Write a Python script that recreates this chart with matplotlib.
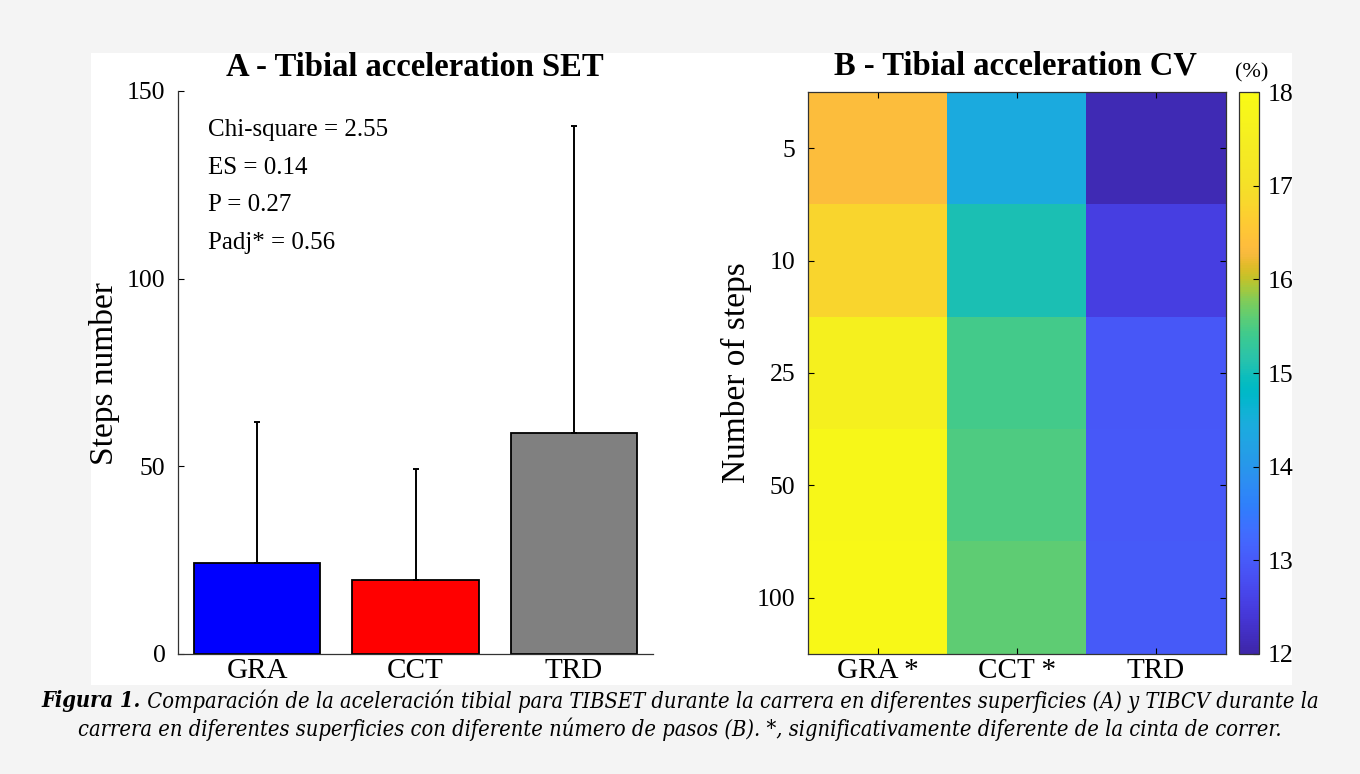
import matplotlib
matplotlib.use('Agg')
import matplotlib.pyplot as plt
import numpy as np
from matplotlib.colors import LinearSegmentedColormap
from matplotlib.patches import Rectangle

# ---------------- data ----------------
categories = ['GRA', 'CCT', 'TRD']
set_means = [24.2, 19.6, 58.9]
set_sd = [37.5, 29.7, 81.8]
bar_colors = ['#0000ff', '#ff0000', '#808080']
stats_lines = ['Chi-square = 2.55', 'ES = 0.14', 'P = 0.27', 'Padj* = 0.56']

cv_categories = ['GRA *', 'CCT *', 'TRD']
step_counts = ['5', '10', '25', '50', '100']
cv_gra = [16.35, 16.8, 17.6, 17.85, 17.9]
cv_cct = [14.4, 15.05, 15.44, 15.51, 15.6]
cv_trd = [12.1, 12.52, 12.95, 12.97, 13.0]
cbar_ticks = [12, 13, 14, 15, 16, 17, 18]

title_a = 'A - Tibial acceleration SET'
title_b = 'B - Tibial acceleration CV'
caption_bold = 'Figura 1.'
caption_line1 = (' Comparación de la aceleración tibial para TIBSET durante la carrera en '
                 'diferentes superficies (A) y TIBCV durante la')
caption_line2 = ('carrera en diferentes superficies con diferente número de pasos (B). *, '
                 'significativamente diferente de la cinta de correr.')

# ---------------- parula-like colormap ----------------
parula64 = np.array([
    [0.2422, 0.1504, 0.6603], [0.2504, 0.1650, 0.7076], [0.2578, 0.1818, 0.7511],
    [0.2647, 0.1978, 0.7952], [0.2706, 0.2147, 0.8364], [0.2751, 0.2342, 0.8710],
    [0.2783, 0.2559, 0.8991], [0.2803, 0.2782, 0.9221], [0.2813, 0.3006, 0.9414],
    [0.2810, 0.3228, 0.9579], [0.2795, 0.3447, 0.9717], [0.2760, 0.3667, 0.9829],
    [0.2699, 0.3892, 0.9906], [0.2602, 0.4123, 0.9952], [0.2440, 0.4358, 0.9988],
    [0.2206, 0.4603, 0.9973], [0.1963, 0.4847, 0.9892], [0.1834, 0.5074, 0.9798],
    [0.1786, 0.5289, 0.9682], [0.1764, 0.5499, 0.9520], [0.1687, 0.5703, 0.9359],
    [0.1540, 0.5902, 0.9218], [0.1460, 0.6091, 0.9079], [0.1380, 0.6276, 0.8973],
    [0.1248, 0.6459, 0.8883], [0.1113, 0.6635, 0.8763], [0.0952, 0.6798, 0.8598],
    [0.0689, 0.6948, 0.8394], [0.0297, 0.7082, 0.8163], [0.0036, 0.7203, 0.7917],
    [0.0067, 0.7312, 0.7660], [0.0433, 0.7411, 0.7394], [0.0964, 0.7500, 0.7120],
    [0.1408, 0.7584, 0.6842], [0.1717, 0.7670, 0.6554], [0.1938, 0.7758, 0.6251],
    [0.2161, 0.7843, 0.5923], [0.2470, 0.7918, 0.5567], [0.2906, 0.7973, 0.5188],
    [0.3406, 0.8008, 0.4789], [0.3909, 0.8029, 0.4354], [0.4456, 0.8024, 0.3909],
    [0.5044, 0.7993, 0.3480], [0.5616, 0.7942, 0.3045], [0.6174, 0.7876, 0.2612],
    [0.6720, 0.7793, 0.2227], [0.7242, 0.7698, 0.1910], [0.7738, 0.7598, 0.1646],
    [0.8203, 0.7498, 0.1535], [0.8634, 0.7406, 0.1596], [0.9035, 0.7330, 0.1774],
    [0.9393, 0.7288, 0.2100], [0.9728, 0.7298, 0.2394], [0.9956, 0.7434, 0.2371],
    [0.9970, 0.7659, 0.2199], [0.9952, 0.7893, 0.2028], [0.9892, 0.8136, 0.1885],
    [0.9786, 0.8386, 0.1766], [0.9676, 0.8639, 0.1643], [0.9610, 0.8890, 0.1537],
    [0.9597, 0.9135, 0.1423], [0.9628, 0.9373, 0.1265], [0.9691, 0.9606, 0.1064],
    [0.9769, 0.9839, 0.0805]])
f = np.linspace(0, 1, len(parula64))
pos = np.interp(f, [0, 0.5, 0.667, 0.83, 0.93, 1.0], [0, 0.5, 0.63, 0.715, 0.83, 1.0])
cmap = LinearSegmentedColormap.from_list('parula_ref', list(zip(pos, parula64)), N=256)

# ---------------- figure ----------------
W, H = 1360, 774
fig = plt.figure(figsize=(W / 100, H / 100), dpi=100, facecolor='#f4f4f4')

def fx(px):
    return px / W

def fy(py):
    return 1 - py / H

serif = ['Liberation Serif', 'DejaVu Serif']

# white panel
fig.patches.append(Rectangle((fx(91), fy(685)), fx(1292) - fx(91), (685 - 53) / H,
                             transform=fig.transFigure, facecolor='white',
                             edgecolor='none', zorder=-10))

# ---------------- panel A ----------------
ax1 = fig.add_axes([fx(178), fy(654), (653 - 178) / W, (654 - 91) / H])
ax1.set_facecolor('none')
x = np.arange(1, len(categories) + 1)
ax1.bar(x, set_means, width=0.8, color=bar_colors, edgecolor='black', linewidth=1.3, zorder=2)
ax1.errorbar(x, set_means, yerr=[np.zeros(len(set_sd)), set_sd], fmt='none',
             ecolor='black', elinewidth=1.4, capsize=2.5, capthick=1.4, zorder=3)
ax1.set_xlim(0.5, 3.5)
ax1.set_ylim(0, 150)
ax1.set_yticks([0, 50, 100, 150])
ax1.set_xticks(x)
ax1.set_xticklabels(categories, fontsize=21, family=serif)
for lab in ax1.get_yticklabels():
    lab.set_fontsize(18.5)
    lab.set_family(serif)
ax1.tick_params(axis='y', direction='in', length=4, pad=9, width=0.8)
ax1.tick_params(axis='x', direction='in', length=0, pad=3)
for s in ['top', 'right']:
    ax1.spines[s].set_visible(False)
for s in ['left', 'bottom']:
    ax1.spines[s].set_linewidth(0.9)
    ax1.spines[s].set_color('#333333')

for i, line in enumerate(stats_lines):
    ax1.text(0.063, 0.931 - i * 0.067, line, transform=ax1.transAxes,
             fontsize=18, family=serif, va='center', ha='left')

fig.text(fx(415), fy(67), title_a, fontsize=23.5, fontweight='bold', family=serif,
         ha='center', va='center')
fig.text(fx(104), fy(374), 'Steps number', fontsize=24, family=serif, rotation=90,
         ha='center', va='center')

# ---------------- panel B ----------------
ax2 = fig.add_axes([fx(808), fy(654), (1225.5 - 808) / W, (654 - 92) / H])
data = np.column_stack([cv_gra, cv_cct, cv_trd])
im = ax2.imshow(data, aspect='auto', cmap=cmap, vmin=12, vmax=18, interpolation='nearest')
ax2.set_xticks(range(len(cv_categories)))
ax2.set_xticklabels(cv_categories, fontsize=21, family=serif)
ax2.set_yticks(range(len(step_counts)))
ax2.set_yticklabels(step_counts, fontsize=18.5, family=serif)
ax2.tick_params(axis='both', direction='in', length=4, width=0.8,
                top=True, right=True, labeltop=False, labelright=False)
ax2.tick_params(axis='y', pad=9)
ax2.tick_params(axis='x', pad=3)
for s in ax2.spines.values():
    s.set_linewidth(0.9)
    s.set_color('#333333')

fig.text(fx(1015), fy(66), title_b, fontsize=23.5, fontweight='bold', family=serif,
         ha='center', va='center')
fig.text(fx(736), fy(373), 'Number of steps', fontsize=24, family=serif, rotation=90,
         ha='center', va='center')

cax = fig.add_axes([fx(1238.5), fy(654), 20.5 / W, (654 - 92) / H])
cb = fig.colorbar(im, cax=cax, ticks=cbar_ticks)
cb.outline.set_linewidth(0.9)
cb.outline.set_edgecolor('#333333')
cax.tick_params(direction='in', length=4, width=0.8, pad=6)
for lab in cax.get_yticklabels():
    lab.set_fontsize(18.5)
    lab.set_family(serif)
fig.text(fx(1252), fy(73), '(%)', fontsize=16, family=serif, ha='center', va='center')

# ---------------- caption ----------------
cap_font = dict(family=['DejaVu Serif'], fontsize=15.7, fontstretch='condensed', style='italic')
t_b = fig.text(0, fy(701), caption_bold, fontweight='bold', va='center', ha='left', **cap_font)
t_1 = fig.text(0, fy(701), caption_line1, va='center', ha='left', **cap_font)
fig.text(0.5, fy(729), caption_line2, va='center', ha='center', **cap_font)
fig.canvas.draw()
r = fig.canvas.get_renderer()
wb = t_b.get_window_extent(r).width
w1 = t_1.get_window_extent(r).width
start = (W - (wb + w1)) / 2
t_b.set_x(start / W)
t_1.set_x((start + wb) / W)

fig.savefig('out.png', dpi=100, facecolor=fig.get_facecolor())
